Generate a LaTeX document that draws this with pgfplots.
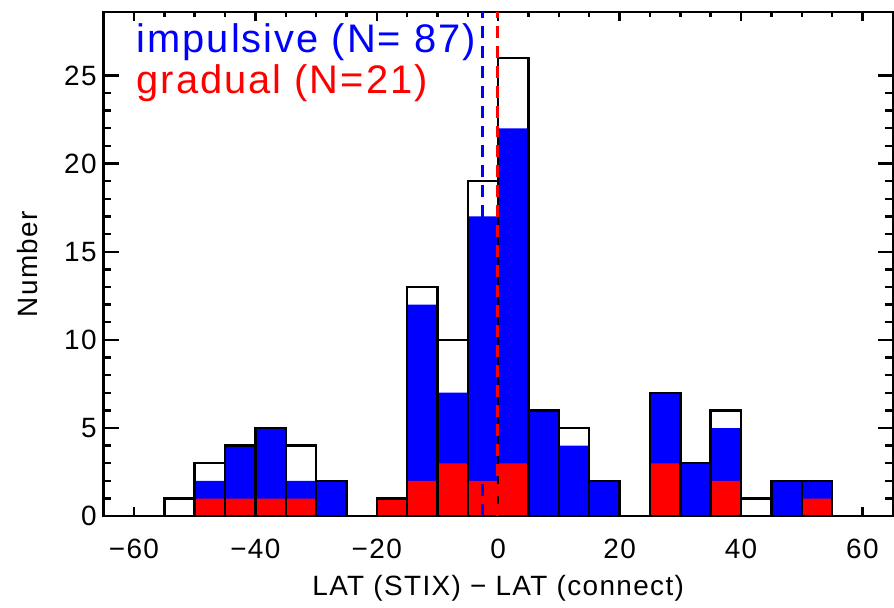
\documentclass[border=0pt]{standalone}
\usepackage{fontspec}
\setmainfont{Liberation Sans}[LetterSpace=5]
\usepackage{pgfplots}
\pgfplotsset{compat=1.18}
\begin{document}
\begin{tikzpicture}
\begin{axis}[
  scale only axis,
  width=396pt, height=253pt,
  xmin=-65, xmax=65, ymin=0, ymax=28.6,
  xtick={-60,-40,-20,0,20,40,60},
  xticklabels={−60,−40,−20,0,20,40,60},
  minor x tick num=3,
  ytick={0,5,10,15,20,25},
  minor y tick num=4,
  tick align=inside,
  axis line style={line width=1.2pt},
  every tick/.style={black, line width=1.2pt},
  xtick style={/pgfplots/major tick length=4.5pt, /pgfplots/minor tick length=2.3pt},
  ytick style={/pgfplots/major tick length=7.5pt, /pgfplots/minor tick length=3.8pt},
  /pgf/number format/assume math mode=true,
  tick label style={font=\fontsize{14}{16}\selectfont},
  xticklabel style={yshift=-8pt},
  every axis x label/.style={at={(axis description cs:0.5,0)}, yshift=-36pt, anchor=center},
  every axis y label/.style={at={(axis description cs:0,0.5)}, xshift=-38pt, rotate=90, anchor=center},
  label style={font=\fontsize{14}{16}\selectfont},
  xlabel={LAT (STIX) − LAT (connect)},
  ylabel={Number},
  clip=false,
]
% impulsive (blue)
\addplot[ybar, bar width=5, bar shift=0pt, fill={rgb,255:red,0;green,0;blue,255}, draw=none] coordinates {
(-47.5,2) (-42.5,4) (-37.5,5) (-32.5,2) (-27.5,2) (-12.5,12) (-7.5,7) (-2.5,17) (2.5,22) (7.5,6) (12.5,4) (17.5,2) (27.5,7) (32.5,3) (37.5,5) (47.5,2) (52.5,2)
};
% gradual (red)
\addplot[ybar, bar width=5, bar shift=0pt, fill={rgb,255:red,255;green,0;blue,0}, draw=none] coordinates {
(-47.5,1) (-42.5,1) (-37.5,1) (-32.5,1) (-17.5,1) (-12.5,2) (-7.5,3) (-2.5,2) (2.5,3) (27.5,3) (37.5,2) (52.5,1)
};
% total (outline)
\addplot[ybar, bar width=5, bar shift=0pt, fill=none, draw=black, line width=1.2pt] coordinates {
(-52.5,1) (-47.5,3) (-42.5,4) (-37.5,5) (-32.5,4) (-27.5,2) (-17.5,1) (-12.5,13) (-7.5,10) (-2.5,19) (2.5,26) (7.5,6) (12.5,5) (17.5,2) (27.5,7) (32.5,3) (37.5,6) (42.5,1) (47.5,2) (52.5,2)
};
% medians
\addplot[sharp plot, color={rgb,255:red,0;green,0;blue,255}, line width=1.5pt, dash pattern=on 6pt off 4pt] coordinates {(-2.6,0) (-2.6,28.6)};
\addplot[sharp plot, color={rgb,255:red,255;green,0;blue,0}, line width=1.5pt, dash pattern=on 6pt off 4pt] coordinates {(-0.15,0) (-0.15,28.6)};
\node[anchor=base west, inner sep=0pt, text={rgb,255:red,0;green,0;blue,255}, font=\fontsize{20}{24}\selectfont] at (axis cs:-59.6,26.3) {impulsive (N= 87)};
\node[anchor=base west, inner sep=0pt, text={rgb,255:red,255;green,0;blue,0}, font=\fontsize{20}{24}\selectfont] at (axis cs:-59.6,24.0) {gradual (N=21)};
\end{axis}
\path (current axis.north west) ++(-52pt,6pt);
\end{tikzpicture}
\end{document}
